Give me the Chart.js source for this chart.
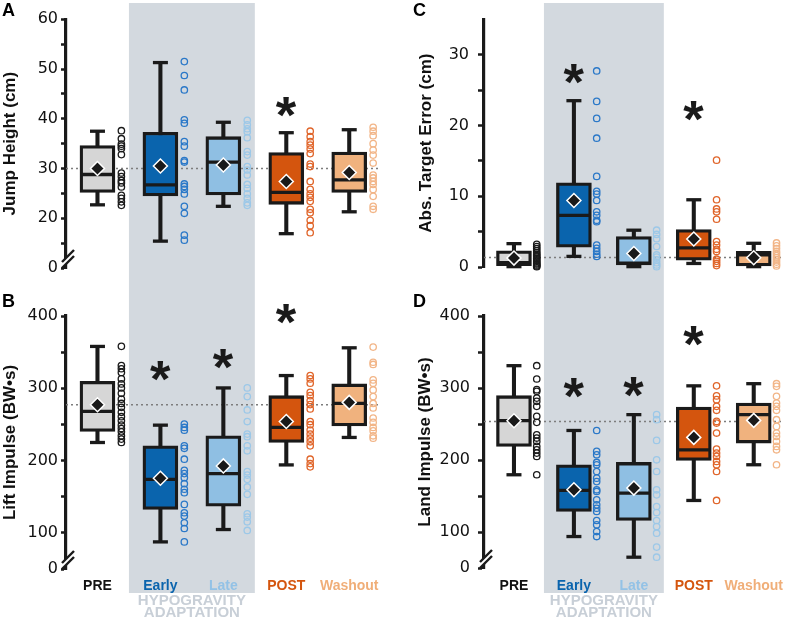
<!DOCTYPE html>
<html><head><meta charset="utf-8">
<script src="https://cdn.jsdelivr.net/npm/chart.js@4.4.1/dist/chart.umd.min.js"></script>
<style>
html,body{margin:0;padding:0;background:#fff;}
#wrap{position:relative;width:803px;height:618px;overflow:hidden;background:#fff;}
canvas{position:absolute;display:block;}
</style></head><body>
<div id="wrap">
<canvas id="cA" width="400" height="290" style="left:0;top:0;width:400px;height:290px"></canvas>
<canvas id="cB" width="400" height="328" style="left:0;top:290px;width:400px;height:328px"></canvas>
<canvas id="cC" width="403" height="290" style="left:400px;top:0;width:403px;height:290px"></canvas>
<canvas id="cD" width="403" height="328" style="left:400px;top:290px;width:403px;height:328px"></canvas>
</div>
<script>
// ---------- categories & colours ----------
const categories = ['PRE', 'Early', 'Late', 'POST', 'Washout'];
const boxColors = ['#d6d6d6', '#0a64ad', '#8fbfe3', '#d4550e', '#f0b27e'];
const dotColors = ['#1a1a1a', '#2a78c8', '#9cc8e8', '#e0652a', '#f2b587'];
const labelColors = ['#111111', '#0a64ad', '#93c2e6', '#d4550e', '#f0ae78'];

// ---------- Panel A: Jump Height ----------
const jumpMin  = [22.7, 15.4, 22.4, 16.9, 21.3];
const jumpQ1   = [25.2, 24.5, 24.7, 22.8, 25.2];
const jumpMed  = [28.8, 26.7, 31.3, 25.2, 27.7];
const jumpQ3   = [34.6, 37.3, 36.4, 33.2, 33.3];
const jumpMax  = [37.5, 51.3, 39.3, 37.2, 37.8];
const jumpMean = [30.0, 30.5, 30.7, 27.4, 29.2];
const jumpStar = [null, null, null, 42.3, null];
const jumpRef  = 30;
const jumpPre   = [37.6, 36.0, 34.9, 34.5, 34.0, 32.8, 29.1, 28.4, 27.6, 27.1, 26.3, 24.6, 24.0, 23.3, 22.6];
const jumpEarly = [51.5, 48.7, 45.8, 39.8, 39.1, 35.4, 34.5, 31.6, 31.3, 26.9, 26.4, 25.8, 24.9, 22.4, 21.0, 16.6, 15.6];
const jumpLate  = [39.7, 38.8, 38.0, 37.4, 36.2, 33.4, 32.7, 30.4, 29.7, 28.7, 26.8, 26.0, 24.9, 24.0, 23.1, 22.6];
const jumpPost  = [37.5, 36.4, 35.4, 34.7, 33.9, 33.0, 30.9, 30.4, 27.4, 25.8, 24.9, 24.2, 23.4, 21.8, 21.1, 19.6, 18.5, 17.1];
const jumpWash  = [38.3, 37.5, 36.6, 35.0, 33.7, 32.7, 31.1, 28.7, 28.1, 27.4, 26.8, 25.8, 24.4, 22.4, 21.8];
const jumpTickValues = [10, 15, 20, 25, 30, 35, 40, 45, 50, 55, 60];
const jumpTickLabels = ['0', '', '20', '', '30', '', '40', '', '50', '', '60'];

// ---------- Panel B: Lift Impulse ----------
const liftMin  = [225, 87.5, 104.6, 194, 232];
const liftQ1   = [240.3, 132.4, 137, 225, 248];
const liftMed  = [268, 174, 182, 245.8, 279];
const liftQ3   = [309.7, 220.4, 234.3, 289.8, 306];
const liftMax  = [357.9, 249, 300.5, 317.6, 356];
const liftMean = [277.3, 175.5, 192.6, 254, 280.5];
const liftStar = [null, 324.5, 340.7, 403, null];
const liftRef  = 277.3;
const liftPre   = [358, 331.5, 327, 322, 313, 306, 300.5, 293, 285, 279, 273.6, 266.7, 260.7, 255, 249, 244.4, 239.8, 234.3, 229.7, 225];
const liftEarly = [250.5, 245.8, 242, 220.4, 217, 201.9, 186.6, 182, 176.4, 168, 160.3, 155.6, 139.4, 127.8, 123.2, 114, 106, 87.5];
const liftLate  = [300.5, 288.5, 270, 254, 236.6, 233, 220.4, 213.5, 184.7, 180, 174, 163.5, 153.3, 126.4, 121.8, 115.3, 103.3];
const liftPost  = [317.6, 313, 307, 294.5, 289.8, 283, 277.4, 271.4, 254, 249.6, 242.2, 236.6, 231, 226, 220.4, 201.9, 195.8, 191.3];
const liftWash  = [357, 336, 333, 311.6, 307, 297.7, 288.5, 279, 272.7, 258.9, 252.8, 245.8, 241.2, 234.3, 231];
const impulseTickValues = [50, 100, 150, 200, 250, 300, 350, 400];
const impulseTickLabels = ['0', '100', '', '200', '', '300', '', '400'];

// ---------- Panel C: Abs. Target Error ----------
const errMin  = [0.05, 1.5, 0.05, 0.5, 0.05];
const errQ1   = [0.2, 2.8, 0.3, 0.95, 0.15];
const errMed  = [0.6, 7.3, 0.55, 2.7, 1.7];
const errQ3   = [2.3, 11.9, 4.3, 5.3, 2.2];
const errMax  = [3.3, 23.5, 5.2, 9.5, 3.35];
const errMean = [1.26, 9.4, 1.9, 3.95, 1.3];
const errStar = [null, 27.3, null, 22, null];
const errRef  = 1.35;
const errPre   = [3.2, 2.9, 2.6, 2.3, 2.0, 1.8, 1.6, 1.4, 1.2, 1.0, 0.8, 0.6, 0.45, 0.3, 0.15, 0.05];
const errEarly = [27.7, 23.4, 21.0, 18.2, 12.8, 10.7, 10.3, 9.4, 7.8, 7.3, 6.6, 6.4, 3.1, 2.65, 2.2, 1.8, 1.5];
const errLate  = [5.2, 4.6, 4.0, 2.9, 1.7, 1.4, 1.0, 0.6, 0.3, 0.05];
const errPost  = [15.1, 9.5, 8.2, 7.8, 6.75, 3.6, 3.1, 2.5, 2.2, 1.1, 0.8, 0.5, 0.2];
const errWash  = [3.4, 3.0, 2.6, 2.2, 1.9, 1.6, 1.3, 1.0, 0.7, 0.4, 0.15];
const errTickValues = [0, 5, 10, 15, 20, 25, 30];
const errTickLabels = ['0', '', '10', '', '20', '', '30'];

// ---------- Panel D: Land Impulse ----------
const landMin  = [179.5, 93.7, 65, 143.8, 193.4];
const landQ1   = [218.9, 128.5, 116, 199.4, 223.5];
const landMed  = [254.6, 157.7, 154, 214, 263];
const landQ3   = [289.3, 193.4, 196.6, 273.6, 279];
const landMax  = [331, 241, 263, 303, 306];
const landMean = [254.6, 158.6, 161, 231.4, 255];
const landStar = [null, 300, 302, 372, null];
const landRef  = 253.6;
const landPre   = [331, 312.5, 297.7, 295.4, 286, 281.5, 274.5, 260.6, 252.3, 235, 230.5, 225.8, 218.9, 214.2, 209.6, 205, 179.5];
const landEarly = [241, 212, 207.3, 196.6, 193.4, 184, 174.8, 170, 158.6, 156.3, 144.7, 137.7, 133, 128.5, 116, 110, 100.6, 93.7];
const landLate  = [263, 256, 227.2, 200.3, 184, 158.6, 151.6, 135.4, 127, 116, 107.6, 98.3, 79, 65];
const landPost  = [303, 289, 283.8, 274.5, 269, 253.6, 251.3, 237.4, 215.2, 209.6, 205, 198, 193.4, 184, 143.8];
const landWash  = [306, 302.3, 288.4, 279, 274.5, 269, 256, 246.7, 237.4, 232.8, 225.8, 218.9, 214.2, 193.4];

const DOT_OFFSET = 0.38;
const INK = '#1a1a1a';

function makeDeco(cfg) {
  return {
    id: 'deco' + cfg.id,
    beforeDraw(chart) {
      const ctx = chart.ctx, xs = chart.scales.x;
      const x0 = xs.getPixelForValue(0.5), x1 = xs.getPixelForValue(2.5);
      ctx.save();
      ctx.fillStyle = '#d3d9df';
      ctx.fillRect(x0, cfg.shadeTop, x1 - x0, cfg.shadeBottom - cfg.shadeTop);
      ctx.restore();
    },
    afterDraw(chart) {
      const ctx = chart.ctx, xs = chart.scales.x, ys = chart.scales.y, ca = chart.chartArea;
      ctx.save();
      // asterisks
      ctx.fillStyle = INK;
      ctx.font = 'bold 50px "Liberation Sans", Arial, sans-serif';
      let m = ctx.measureText('*');
      const w0 = m.actualBoundingBoxLeft + m.actualBoundingBoxRight;
      const fs = 50 * 21 / w0;
      ctx.font = 'bold ' + fs.toFixed(1) + 'px "Liberation Sans", Arial, sans-serif';
      m = ctx.measureText('*');
      ctx.textAlign = 'left'; ctx.textBaseline = 'alphabetic';
      cfg.star.forEach((v, i) => {
        if (v === null) return;
        const cx = xs.getPixelForValue(i), cy = ys.getPixelForValue(v);
        const x = cx - (m.actualBoundingBoxRight - m.actualBoundingBoxLeft) / 2;
        const y = cy + (m.actualBoundingBoxAscent - m.actualBoundingBoxDescent) / 2;
        ctx.fillText('*', x, y);
      });
      // axis break
      if (cfg.brk) {
        const bx = ca.left + 2, by = ca.bottom - 9;
        ctx.lineCap = 'butt';
        ctx.strokeStyle = '#ffffff'; ctx.lineWidth = 4;
        ctx.beginPath(); ctx.moveTo(bx - 7, by + 7); ctx.lineTo(bx + 7, by - 7); ctx.stroke();
        ctx.strokeStyle = INK; ctx.lineWidth = 2.4;
        [-3, 3].forEach(o => {
          ctx.beginPath(); ctx.moveTo(bx - 6, by + 6 + o); ctx.lineTo(bx + 6, by - 6 + o); ctx.stroke();
        });
      }
      // panel letter
      ctx.fillStyle = '#000';
      ctx.font = 'bold 18px "Liberation Sans", Arial, sans-serif';
      ctx.textAlign = 'left'; ctx.textBaseline = 'alphabetic';
      ctx.fillText(cfg.letter, cfg.letterX, cfg.letterY);
      // category labels
      if (cfg.catLabels) {
        ctx.font = 'bold 14px "Liberation Sans", Arial, sans-serif';
        ctx.textAlign = 'center';
        categories.forEach((c, i) => {
          ctx.fillStyle = labelColors[i];
          ctx.fillText(c, xs.getPixelForValue(i), cfg.catY);
        });
        ctx.fillStyle = '#c8cfd7';
        ctx.font = 'bold 15px "Liberation Sans", Arial, sans-serif';
        const hx = xs.getPixelForValue(1.5);
        ctx.fillText('HYPOGRAVITY', hx, cfg.catY + 15);
        ctx.fillText('ADAPTATION', hx, cfg.catY + 27);
      }
      ctx.restore();
    }
  };
}

function makePanel(cfg) {
  const ds = [];
  ds.push({ type: 'line', data: [{x: -0.5, y: cfg.ref}, {x: 4.5, y: cfg.ref}],
    borderColor: '#7d7d7d', borderWidth: 1.5, borderDash: [2, 3], pointRadius: 0, order: 9, clip: false });
  cfg.dots.forEach((arr, i) => ds.push({ type: 'scatter',
    data: arr.map(v => ({x: i + DOT_OFFSET, y: v})),
    pointRadius: 3.2, pointBorderWidth: 1.3, pointBorderColor: dotColors[i],
    pointBackgroundColor: 'rgba(0,0,0,0)', order: 8, clip: false }));
  ds.push({ type: 'bar', data: categories.map((c, i) => ({x: i, y: [cfg.min[i], cfg.max[i]]})),
    backgroundColor: INK, borderWidth: 0, barThickness: 3.4, grouped: false, order: 7 });
  ds.push({ type: 'bar', data: categories.map((c, i) => ({x: i, y: [cfg.q1[i], cfg.q3[i]]})),
    backgroundColor: boxColors, borderColor: INK, borderWidth: 3.3, borderSkipped: false,
    barThickness: 35, grouped: false, order: 6 });
  const caps = [];
  categories.forEach((c, i) => { caps.push({x: i, y: cfg.min[i]}); caps.push({x: i, y: cfg.max[i]}); });
  ds.push({ type: 'scatter', data: caps, pointStyle: 'line', pointRadius: 7.5, pointBorderWidth: 3.3,
    pointBorderColor: INK, order: 5, clip: false });
  ds.push({ type: 'scatter', data: categories.map((c, i) => ({x: i, y: cfg.med[i]})),
    pointStyle: 'line', pointRadius: 16, pointBorderWidth: 3.3, pointBorderColor: INK, order: 4, clip: false });
  ds.push({ type: 'scatter', data: categories.map((c, i) => ({x: i, y: cfg.mean[i]})),
    pointStyle: 'rectRot', pointRadius: 7, pointBackgroundColor: INK, pointBorderColor: '#ffffff',
    pointBorderWidth: 1.5, order: 3, clip: false });

  return new Chart(document.getElementById(cfg.id), {
    type: 'scatter',
    data: { datasets: ds },
    options: {
      responsive: false, animation: false, events: [], devicePixelRatio: 1,
      layout: { padding: { left: 0, right: cfg.W - cfg.right, top: cfg.top, bottom: cfg.H - cfg.bottom } },
      plugins: { legend: { display: false }, tooltip: { enabled: false } },
      scales: {
        x: { type: 'linear', min: -0.5, max: 4.5, display: false, offset: false },
        y: { type: 'linear', min: cfg.ymin, max: cfg.ymax,
          afterFit: s => { s.width = cfg.left; },
          afterBuildTicks: s => { s.ticks = cfg.tickValues.map(v => ({value: v})); },
          ticks: { autoSkip: false, callback: (v, i) => cfg.tickLabels[i], color: '#111',
            font: { family: '"DejaVu Sans", sans-serif', size: 16 }, padding: cfg.tickPad },
          grid: { display: true, drawOnChartArea: false, drawTicks: true, tickLength: cfg.tickLen,
            tickWidth: 2.5, tickColor: INK },
          border: { display: true, width: 3.2, color: INK },
          title: { display: true, text: cfg.title, color: '#111',
            font: { family: '"Liberation Sans", Arial, sans-serif', size: 17, weight: 'bold' },
            padding: { top: cfg.titlePad, bottom: 0 } }
        }
      }
    },
    plugins: [makeDeco(cfg)]
  });
}

makePanel({ id: 'cA', W: 400, H: 290, left: 66, right: 385, top: 16, bottom: 268,
  ymin: 10, ymax: 60, tickValues: jumpTickValues, tickLabels: jumpTickLabels, tickLen: 5, tickPad: 3,
  title: 'Jump Height (cm)', titlePad: 0, min: jumpMin, q1: jumpQ1, med: jumpMed, q3: jumpQ3, max: jumpMax,
  mean: jumpMean, star: jumpStar, ref: jumpRef, dots: [jumpPre, jumpEarly, jumpLate, jumpPost, jumpWash],
  brk: true, letter: 'A', letterX: 2, letterY: 16, shadeTop: 3, shadeBottom: 290, catLabels: false });

makePanel({ id: 'cB', W: 400, H: 328, left: 66, right: 385, top: 26, bottom: 279,
  ymin: 50, ymax: 400, tickValues: impulseTickValues, tickLabels: impulseTickLabels, tickLen: 5, tickPad: 3,
  title: 'Lift Impulse (BW•s)', titlePad: 0, min: liftMin, q1: liftQ1, med: liftMed, q3: liftQ3, max: liftMax,
  mean: liftMean, star: liftStar, ref: liftRef, dots: [liftPre, liftEarly, liftLate, liftPost, liftWash],
  brk: true, letter: 'B', letterX: 2, letterY: 17, shadeTop: 0, shadeBottom: 303, catLabels: true, catY: 300 });

makePanel({ id: 'cC', W: 403, H: 290, left: 84, right: 402, top: 16, bottom: 267,
  ymin: 0, ymax: 35, tickValues: errTickValues, tickLabels: errTickLabels, tickLen: 6, tickPad: 9,
  title: 'Abs. Target Error (cm)', titlePad: 16, min: errMin, q1: errQ1, med: errMed, q3: errQ3, max: errMax,
  mean: errMean, star: errStar, ref: errRef, dots: [errPre, errEarly, errLate, errPost, errWash],
  brk: false, letter: 'C', letterX: 13, letterY: 16, shadeTop: 3, shadeBottom: 290, catLabels: false });

makePanel({ id: 'cD', W: 403, H: 328, left: 84, right: 402, top: 26, bottom: 278,
  ymin: 50, ymax: 400, tickValues: impulseTickValues, tickLabels: impulseTickLabels, tickLen: 6, tickPad: 8,
  title: 'Land Impulse (BW•s)', titlePad: 15, min: landMin, q1: landQ1, med: landMed, q3: landQ3, max: landMax,
  mean: landMean, star: landStar, ref: landRef, dots: [landPre, landEarly, landLate, landPost, landWash],
  brk: true, letter: 'D', letterX: 13, letterY: 17, shadeTop: 0, shadeBottom: 303, catLabels: true, catY: 300 });
</script>
</body></html>
